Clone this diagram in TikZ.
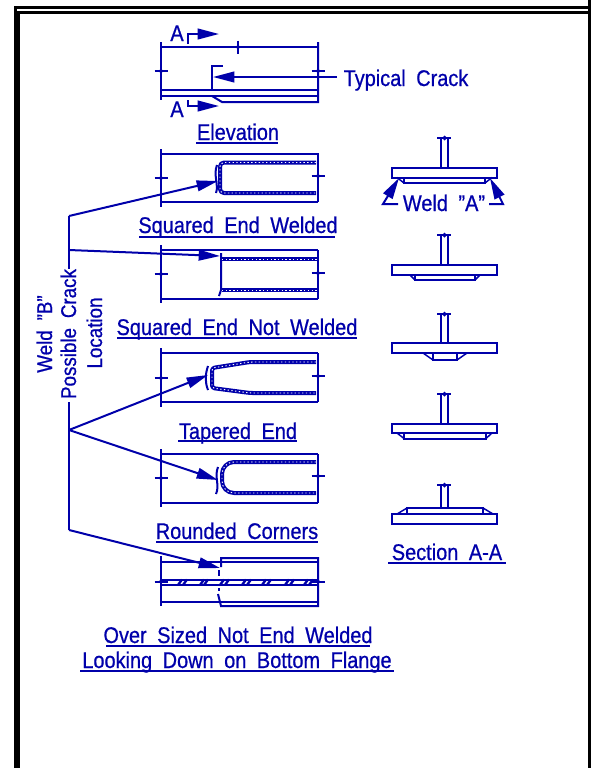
\documentclass[tikz,border=0pt]{standalone}
\usepackage{fontspec}
\setmainfont[FakeStretch=0.88,WordSpace=1.9,FakeBold=0.7]{Liberation Sans}
\usetikzlibrary{calc, arrows.meta}
\definecolor{cadblue}{RGB}{0,0,170}
\newcommand{\breakh}[2]{\draw[cadline] (#1-6.5,#2) -- (#1+6.5,#2); \fill[cadblue] (#1-2,#2) -- (#1,#2-3) -- (#1+2,#2) -- (#1,#2+3) -- cycle;}
\newcommand{\breakv}[2]{\draw[cadline] (#1,#2-6.5) -- (#1,#2+6.5); \fill[cadblue] (#1,#2-2) -- (#1-3,#2) -- (#1,#2+2) -- (#1+3,#2) -- cycle;}
\tikzset{
  cadline/.style={draw=cadblue, line width=1.5pt},
  thinline/.style={draw=cadblue, line width=1.1pt},
  framed/.style={draw=black, line width=2.25pt},
  lbl/.style={text=cadblue, font=\fontsize{17}{17}\selectfont, inner sep=0pt, anchor=base},
  sidelbl/.style={lbl, font=\fontsize{16}{16}\selectfont, rotate=90},
  weldbead/.style={draw=cadblue, line width=3pt, line join=round, postaction={draw=white, line width=0.7pt, dash pattern=on 1pt off 1.8pt}},
  pointer/.style={cadline, -{Triangle[length=16pt, width=8pt]}},
}
\begin{document}
\begin{tikzpicture}[x=0.75pt, y=-0.75pt]
    \useasboundingbox (0,0) rectangle (590,768);
    % double frame
    \draw[framed] (15,768) -- (15,7.5) -- (590,7.5);
    \draw[framed] (18.7,768) -- (18.7,12.5) -- (590,12.5);
    \draw[framed] (589,0) -- (589,768);
    % labels
    \node[lbl] (typical) at (406,86) {Typical Crack};
    \node[lbl] (atop) at (177,41) {A};
    \node[lbl] (abot) at (177,117) {A};
    \node[lbl] (elev) at (238,140) {Elevation};
    \node[lbl] (sqw) at (238,233) {Squared End Welded};
    \node[lbl] (sqn) at (237,335) {Squared End Not Welded};
    \node[lbl] (tap) at (238,439) {Tapered End};
    \node[lbl] (rnd) at (237,539) {Rounded Corners};
    \node[lbl] (over) at (238,643) {Over Sized Not End Welded};
    \node[lbl] (look) at (237,668) {Looking Down on Bottom Flange};
    \node[lbl] (secaa) at (447,560) {Section A-A};
    \node[lbl] (welda) at (444,211) {Weld "A"};
    \node[sidelbl] (weldb) at (52,334) {Weld "B"};
    \node[sidelbl] (poss) at (76,334) {Possible Crack};
    \node[sidelbl] (loc) at (102,333) {Location};
    % underlines
    \draw[cadline] (196,142.5) -- (278,142.5);
    \draw[cadline] (139,237) -- (335,237);
    \draw[cadline] (117,337.5) -- (357,337.5);
    \draw[cadline] (178,441) -- (297,441);
    \draw[cadline] (156,541.5) -- (318,541.5);
    \draw[cadline] (106,646) -- (370,646);
    \draw[cadline] (80,671) -- (394,671);
    \draw[cadline] (388,563) -- (506,563);
    % elevation
    \draw[cadline] (161,42) -- (161,100);
    \draw[cadline] (318,42) -- (318,102) -- (222,102) -- (212,96);
    \draw[cadline] (161,47) -- (318,47);
    \draw[cadline] (161,90) -- (318,90);
    \draw[cadline] (161,96) -- (318,96);
    \draw[cadline] (223,66) -- (212,66) -- (212,90);
    \breakv{238}{47}
    \breakh{161}{71}
    \breakh{318}{71}
    \coordinate (crack) at (213,77);
    \coordinate (typend) at (337,77);
    \draw[pointer] (typend) -- (crack);
    % section marks
    \coordinate (atip) at (219,34);
    \coordinate (btip) at (219,106);
    \draw[pointer] (188,44) -- (188,34) -- (atip);
    \draw[pointer] (188,100) -- (188,106) -- (btip);
    % squared end welded
    \draw[cadline] (161,149) -- (161,207);
    \draw[cadline] (318,153) -- (318,202);
    \draw[cadline] (161,153.5) -- (318,153.5);
    \draw[cadline] (161,202) -- (318,202);
    \draw[weldbead, rounded corners=3pt] (316,162.5) -- (220,162.5) -- (220,193) -- (316,193);
    \draw[cadline] (217,165) .. controls (213,175) and (219,185) .. (216,193);
    \breakh{161}{178}
    \breakh{318}{176}
    % squared end not welded
    \draw[cadline] (161,245) -- (161,303);
    \draw[cadline] (318,250) -- (318,299);
    \draw[cadline] (161,250) -- (318,250);
    \draw[cadline] (161,299) -- (318,299);
    \draw[cadline] (221,253) -- (221,290) -- (219,296);
    \draw[weldbead] (222,259) -- (317,259);
    \draw[weldbead] (222,290) -- (317,290);
    \breakh{161}{274}
    \breakh{318}{273}
    % tapered end
    \draw[cadline] (161,348) -- (161,407);
    \draw[cadline] (318,353) -- (318,402);
    \draw[cadline] (161,353) -- (318,353);
    \draw[cadline] (161,402) -- (318,402);
    \draw[weldbead, rounded corners=2pt] (316,362) -- (250,362) -- (212,368) -- (212,388) -- (250,393) -- (316,393);
    \draw[cadline] (208,366) .. controls (205,375) and (205,382) .. (208,390);
    \breakh{161}{378}
    \breakh{318}{376}
    % rounded corners
    \draw[cadline] (161,449) -- (161,507);
    \draw[cadline] (318,454) -- (318,503);
    \draw[cadline] (161,454) -- (318,454);
    \draw[cadline] (161,503) -- (318,503);
    \draw[weldbead, rounded corners=9pt] (316,462) -- (222,462) -- (222,493) -- (316,493);
    \draw[cadline] (218,467) .. controls (214,477) and (220,485) .. (216,494);
    \breakh{161}{478}
    \breakh{318}{476}
    % over sized
    \draw[cadline] (161,556) -- (161,606);
    \draw[cadline] (221,567) -- (221,558) -- (318,558) -- (318,606) -- (221,606) -- (218,594);
    \draw[cadline] (161,562) -- (221,562);
    \draw[thinline] (221,562) -- (318,562);
    \draw[thinline] (221,602) -- (318,602);
    \draw[cadline] (161,602) -- (221,602);
    \draw[cadline] (161,579.5) -- (318,579.5);
    \draw[cadline] (161,585) -- (318,585);
    \draw[cadline] (219,570) -- (219,576);
    \draw[cadline] (219,588) -- (219,591);
    \foreach \xh in {178,183,200,204,220,225,242,247,262,267,285,290,304,309} {
      \draw[cadline, line width=1.8pt] (\xh,585) -- (\xh+4,579.5);
    }
    \breakh{161}{581.5}
    \breakh{318}{581.5}
    % leaders for weld B
    \coordinate (ldtop) at (69,216);
    \coordinate (ldmid) at (69,250);
    \coordinate (ldgap) at (69,269);
    \coordinate (ldlow) at (69,402);
    \coordinate (ldfork) at (69,430);
    \coordinate (ldend) at (69,530);
    \coordinate (tipw) at (218,181);
    \coordinate (tipn) at (220,256);
    \coordinate (tipt) at (208,375);
    \coordinate (tipr) at (218,480);
    \coordinate (tipo) at (220,568);
    \draw[cadline] (ldtop) -- (ldgap);
    \draw[cadline] (ldlow) -- (ldend);
    \draw[pointer] (ldtop) -- (tipw);
    \draw[pointer] (ldmid) -- (tipn);
    \draw[pointer] (ldfork) -- (tipt);
    \draw[pointer] (ldfork) -- (tipr);
    \draw[pointer] (ldend) -- (tipo);
    % sections, flange and web
    \foreach \yw/\yf in {138/168,235/265,314/343,394/423.5} {
      \draw[cadline] (392,\yf) rectangle (497,\yf+9.5);
      \draw[cadline] (441,\yw) -- (441,\yf);
      \draw[cadline] (448,\yw) -- (448,\yf);
      \draw[cadline] (437,\yw) -- (451,\yw);
      \fill[cadblue] (444.5,\yw-2.5) -- (447,\yw) -- (444.5,\yw+2.5) -- (442,\yw) -- cycle;
    }
    \draw[cadline] (392,514) rectangle (497,524);
    \draw[cadline] (441,485) -- (441,508);
    \draw[cadline] (448,485) -- (448,508);
    \draw[cadline] (437,485) -- (451,485);
    \fill[cadblue] (444.5,482.5) -- (447,485) -- (444.5,487.5) -- (442,485) -- cycle;
    % sections, plates and welds
    \draw[cadline] (404,177.5) -- (404,183) -- (485,183) -- (485,177.5);
    \draw[thinline] (397,177.5) -- (404,183);
    \draw[thinline] (492,177.5) -- (485,183);
    \draw[cadline] (415,275) -- (415,280) -- (475,280) -- (475,275);
    \draw[thinline] (410,275) -- (415,280);
    \draw[thinline] (480,275) -- (475,280);
    \draw[cadline] (433,353) -- (433,360) -- (457,360) -- (457,353);
    \draw[thinline] (423,353) -- (433,360);
    \draw[thinline] (467,353) -- (457,360);
    \draw[cadline] (404,433) -- (404,438.5) -- (486,438.5) -- (486,433);
    \draw[thinline] (397,433) -- (404,438.5);
    \draw[thinline] (492,433) -- (486,438.5);
    \draw[cadline] (407,514) -- (407,508) -- (483,508) -- (483,514);
    \draw[thinline] (397,514) -- (407,508);
    \draw[thinline] (493,514) -- (483,508);
    % weld A pointers
    \coordinate (tipl) at (399,178);
    \coordinate (tipright) at (490,178);
    \draw[pointer] (398,204) -- (383,204) -- (tipl);
    \draw[pointer] (489,204) -- (503,204) -- (tipright);
\end{tikzpicture}
\end{document}
